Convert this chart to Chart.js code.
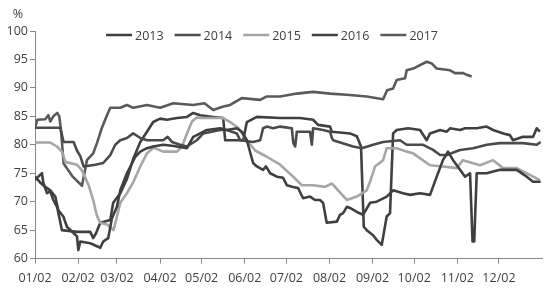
<!DOCTYPE html>
<html>
<head>
<meta charset="utf-8">
<script src="https://cdn.jsdelivr.net/npm/chart.js@4.4.1/dist/chart.umd.min.js"></script>
<style>
  html, body { margin: 0; padding: 0; background: #fff; }
  #chart { display: block; }
</style>
</head>
<body>
<canvas id="chart" width="544" height="290"></canvas>
<script>
// x values are days counted from 01/02
const monthTicks = [0, 31, 59, 90, 120, 151, 181, 212, 243, 273, 304, 334];
const monthLabels = ['01/02', '02/02', '03/02', '04/02', '05/02', '06/02', '07/02', '08/02', '09/02', '10/02', '11/02', '12/02'];
const yearNames = ['2013', '2014', '2015', '2016', '2017'];
const yearColors = ['#3f3f3f', '#4b4b4b', '#a6a6a6', '#404040', '#5a5a5a'];

const days2013 = [0, 4, 7.4, 11, 14.6, 16.8, 20.4, 23, 30.2, 31.2, 32.6, 39.8, 47, 49.1, 52.7, 55.4, 59, 61.4, 66.2, 72.2,
  75.8, 80.6, 85.1, 92.3, 100, 109.4, 113.9, 118.9, 123.7, 133.3, 138.1, 145.3, 148.9, 152.5, 157, 159.7, 164.2, 166.3, 169.3, 174.1,
  178.6, 181.3, 185.8, 189.4, 193, 198, 201.6, 205.2, 207.4, 210, 217.3, 219.6, 221.8, 224.5, 226.8, 231.7, 236.2, 241.2, 246, 253.2,
  257.8, 265, 270, 277.2, 284.4, 289.2, 293.7, 297.3, 301, 306, 309.6, 313.2, 315, 316.2, 318, 325.2, 329.8, 334.7, 346.8, 354,
  358.6, 364];
const vals2013 = [74.4, 73.3, 72.6, 72, 70.9, 68.5, 67.4, 65.6, 63.9, 61.5, 63, 62.7, 61.9, 63, 63.6, 67.1, 69.1, 72, 75, 77.9,
  78.8, 79.4, 79.7, 80, 79.8, 79.4, 81.4, 82, 82.6, 82.9, 82.6, 82.9, 82.3, 80.8, 76.8, 76.2, 75.6, 76.2, 75, 74.4,
  74.2, 72.9, 72.6, 72.4, 70.6, 70.9, 70.3, 70.3, 69.8, 66.3, 66.5, 67.7, 68, 69.1, 68.9, 68.2, 67.7, 69.8, 70, 70.9,
  72, 71.5, 71.2, 71.5, 71.2, 74.4, 77.3, 78.8, 77.3, 75.6, 74.4, 75, 63, 63, 75, 75, 75.3, 75.6, 75.6, 74.4,
  73.5, 73.5];

const days2014 = [0, 18.2, 20.6, 27.8, 30.2, 32.6, 35, 43.4, 49.1, 54.2, 57.8, 61.4, 66.2, 70.7, 75.8, 80.6, 92.3, 95.5, 98.6, 104.5,
  109.4, 116.5, 121.1, 133.3, 138.1, 145.3, 147.7, 157, 162.1, 164.2, 166.9, 171.4, 176.5, 184.9, 186, 187.3, 188.5, 198, 199.3, 200.2,
  207.4, 212.4, 213.7, 214.6, 229, 235.3, 243.4, 250.6, 262.8, 267.6, 279.4, 286.6, 291.6, 296.4, 306, 315.4, 325.2, 334.7, 351.3, 361.2,
  364];
const vals2014 = [83, 83, 80.5, 80.5, 79, 78, 76.2, 76.5, 76.8, 78.2, 80, 80.8, 81.2, 82, 81.2, 80.8, 80.8, 81.4, 80.5, 80,
  79.7, 80.8, 82, 82.6, 82.6, 82, 80.8, 80.5, 80.8, 82.9, 83.2, 82.9, 83.2, 82.9, 80.3, 79.7, 82.3, 82.3, 80, 82.9,
  82.6, 82.3, 81.2, 80.8, 79.7, 79.4, 80, 80.5, 80.8, 80, 80, 79.1, 78.2, 78.2, 79.1, 79.4, 80, 80.3, 80.3, 80,
  80.5];

const days2015 = [0, 11, 15.8, 19.4, 21.8, 30.2, 33.8, 38.6, 42.2, 44.6, 47, 51.8, 55.4, 56.5, 59, 61.4, 66.2, 70.9, 75.8, 80.6,
  85.3, 92.3, 102.2, 105.8, 109.4, 113, 116.5, 118.9, 135.5, 140.5, 146.3, 152.5, 158.5, 166.9, 176.5, 185.8, 192.1, 200.2, 208.8, 213.7,
  218.2, 224.5, 231.7, 238.8, 241.2, 244.8, 250.6, 253.2, 260.4, 267.6, 272.2, 284.4, 293.7, 303.6, 308.1, 320.4, 329.8, 337, 346.8, 356.3,
  363.5];
const vals2015 = [80.4, 80.4, 79.7, 78.8, 77, 76.5, 75.5, 72.9, 70, 67.5, 66.3, 66, 65.3, 65, 67.4, 69.8, 71.5, 73.5, 76.2, 78.5,
  79.5, 78.8, 78.8, 79.7, 82, 84.1, 84.8, 84.7, 84.7, 84, 83, 80.8, 79, 77.9, 76.5, 74.4, 72.9, 72.9, 72.6, 73.2,
  72, 70.3, 70.9, 72, 73.5, 76.2, 77.3, 79.4, 79.4, 78.8, 78.5, 76.4, 76.2, 75.9, 77.3, 76.4, 77.3, 75.9, 75.9, 74.7,
  73.8];

const days2016 = [0, 2.4, 5, 6, 8.6, 11, 13.2, 16, 19.4, 30.2, 39.8, 41.9, 44, 47, 54.2, 56.3, 61.4, 66.2, 70.7, 75.8,
  80.6, 85.1, 90.1, 95, 102.2, 109.4, 113.9, 118.9, 128.3, 135.5, 136.9, 149.9, 152.5, 159.7, 176.5, 190.8, 200.2, 203.8, 212.4, 213.7,
  226.8, 231.7, 234.7, 236.7, 238.8, 243.4, 246, 249.6, 253.2, 255.6, 257.8, 260.4, 268.6, 277.2, 282, 284.4, 291.6, 296.4, 298.8, 306,
  309.6, 318, 325.2, 329.8, 337.2, 341.9, 344.1, 351.3, 358.6, 361.2, 363.5];
const vals2016 = [73.8, 74.4, 75, 73.3, 71.5, 71.8, 70.3, 69, 65, 64.7, 64.7, 63.6, 64.5, 66.3, 66.8, 69.8, 71.5, 74, 77.5, 80.5,
  82.3, 84, 84.6, 84.4, 84.7, 84.9, 85.6, 85.2, 84.9, 84.7, 80.8, 80.8, 84, 84.9, 84.7, 84.7, 84.4, 83.5, 83.2, 82.3,
  82, 81.5, 79.7, 65.6, 65, 64.1, 63.3, 62.4, 67.4, 68, 82, 82.6, 82.9, 82.6, 80.8, 82, 82.6, 82.3, 82.9, 82.6,
  82.9, 82.9, 83.2, 82.6, 82, 81.7, 80.8, 81.4, 81.4, 82.9, 82.3];

const days2017 = [0, 1.7, 7.4, 9.6, 11, 13.2, 16, 17.5, 18.8, 20.6, 26.8, 33.8, 37.4, 41.9, 44.6, 48.2, 51.8, 54.2, 61.4, 66.2,
  70.7, 80.6, 90.1, 99.5, 113.9, 122, 128.3, 135, 140.5, 148.9, 162.1, 166.9, 176.5, 188.5, 200.2, 212.4, 224.5, 238.8, 250.6, 253.5,
  257.8, 260.4, 266.4, 267.6, 272.2, 282, 285.6, 289.2, 298.8, 302.4, 308.3, 310.8, 314.4];
const vals2017 = [83, 84.4, 84.5, 85.2, 84.1, 85, 85.6, 85, 82.3, 76.7, 74.5, 72.8, 77.3, 78.5, 80.3, 83, 85.2, 86.5, 86.5, 87,
  86.5, 87, 86.5, 87.3, 87, 87.3, 86.1, 86.7, 87, 88.2, 87.9, 88.5, 88.5, 89, 89.3, 89, 88.8, 88.5, 88, 89.6,
  89.9, 91.4, 91.7, 93.1, 93.4, 94.6, 94.3, 93.4, 93.1, 92.6, 92.6, 92.3, 92];

const seriesDays = [days2013, days2014, days2015, days2016, days2017];
const seriesVals = [vals2013, vals2014, vals2015, vals2016, vals2017];

const FONT = '"Open Sans", "DejaVu Sans", sans-serif';
const TEXT = '#404040';
const AXIS = '#868686';

// legend across the top of the plot, plus the "%" unit label
const topLegend = {
    id: 'topLegend',
    afterDraw(chart) {
        const ctx = chart.ctx;
        const sets = chart.data.datasets;
        ctx.save();
        ctx.font = '12.5px ' + FONT;
        ctx.textBaseline = 'middle';
        const sample = 26, gap = 3, space = 11;
        const widths = sets.map(ds => sample + gap + ctx.measureText(ds.label).width);
        const total = widths.reduce((a, b) => a + b, 0) + space * (sets.length - 1);
        let x = chart.width / 2 - total / 2;
        const y = 35;
        sets.forEach((ds, i) => {
            ctx.strokeStyle = ds.borderColor;
            ctx.lineWidth = 2.5;
            ctx.beginPath();
            ctx.moveTo(x, y);
            ctx.lineTo(x + sample, y);
            ctx.stroke();
            ctx.fillStyle = TEXT;
            ctx.textAlign = 'left';
            ctx.fillText(ds.label, x + sample + gap, y + 1);
            x += widths[i] + space;
        });
        ctx.textAlign = 'center';
        ctx.fillText('%', 18, 14);
        ctx.restore();
    },
};

new Chart(document.getElementById('chart'), {
    type: 'line',
    data: {
        datasets: yearNames.map((name, i) => ({
            label: name,
            data: seriesDays[i].map((d, j) => ({ x: d, y: seriesVals[i][j] })),
            borderColor: yearColors[i],
            borderWidth: 2.6,
            pointRadius: 0,
            tension: 0,
            fill: false,
            borderJoinStyle: 'round',
        })),
    },
    options: {
        responsive: false,
        animation: false,
        devicePixelRatio: 1,
        layout: { padding: { top: 31, right: 2, left: 0, bottom: 0 } },
        plugins: {
            legend: { display: false },
            tooltip: { enabled: false },
        },
        scales: {
            x: {
                type: 'linear',
                min: 0,
                max: 365,
                afterBuildTicks: (scale) => {
                    scale.ticks = monthTicks.map(v => ({ value: v }));
                },
                afterFit: (scale) => { scale.height = 31.4; },
                border: { color: AXIS, width: 1 },
                grid: { drawOnChartArea: false, drawTicks: true, tickLength: 5, color: AXIS },
                ticks: {
                    color: TEXT,
                    font: { family: FONT, size: 12.5 },
                    padding: 7,
                    maxRotation: 0,
                    autoSkip: false,
                    callback: (value) => monthLabels[monthTicks.indexOf(value)],
                },
            },
            y: {
                min: 60,
                max: 100,
                afterFit: (scale) => { scale.width = 35; },
                border: { color: AXIS, width: 1 },
                grid: { drawOnChartArea: false, drawTicks: true, tickLength: 5, color: AXIS },
                ticks: {
                    stepSize: 5,
                    color: TEXT,
                    font: { family: FONT, size: 12.5 },
                    padding: 2,
                },
            },
        },
    },
    plugins: [topLegend],
});
</script>
</body>
</html>
